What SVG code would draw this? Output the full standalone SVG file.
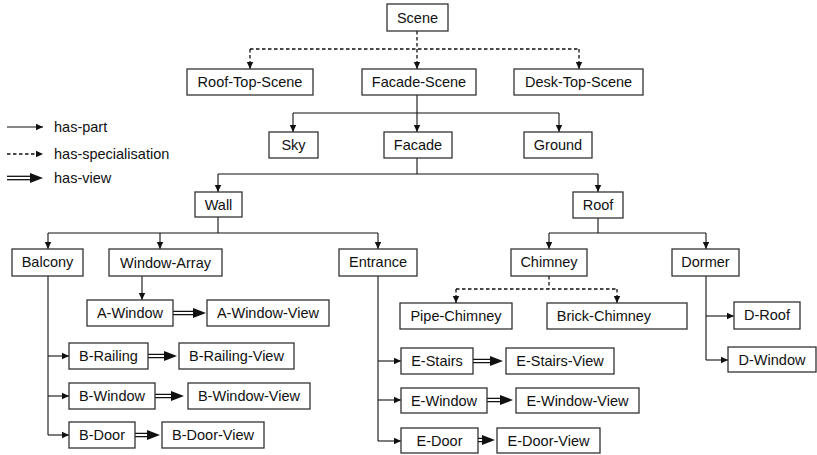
<svg xmlns="http://www.w3.org/2000/svg" width="817" height="455" viewBox="0 0 817 455">
<style>
.n rect{fill:#fff;stroke:#333;stroke-width:1.3}
text{font-family:"Liberation Sans",Arial,sans-serif;font-size:14.5px;fill:#111}
.n text{text-anchor:middle}
.c{fill:none;stroke:#111;stroke-width:1.1}
.d{stroke-dasharray:3.5 2.5;stroke-width:1.3}
.v{fill:none;stroke:#111;stroke-width:1.3}
</style>
<defs>
<marker id="a" markerWidth="8" markerHeight="8" refX="7" refY="4" orient="auto" markerUnits="userSpaceOnUse"><path d="M0,0.8 L7,4 L0,7.2 Z" fill="#111"/></marker>
</defs>
<g id="legend">
<line class="c" x1="7" y1="127" x2="43" y2="127" marker-end="url(#a)"/>
<text x="54" y="132">has-part</text>
<line class="c d" x1="7" y1="154" x2="43" y2="154" marker-end="url(#a)"/>
<text x="54" y="159">has-specialisation</text>
<line class="v" x1="7" y1="176.3" x2="32" y2="176.3"/>
<line class="v" x1="7" y1="179.7" x2="32" y2="179.7"/>
<path d="M30,173 L43,178 L30,183 Z" fill="#111"/>
<text x="54" y="183">has-view</text>
</g>
<g id="connectors">
<path class="c d" d="M417,31 V49 M250,49 H579"/>
<line class="c d" x1="250" y1="49" x2="250" y2="69" marker-end="url(#a)"/>
<line class="c d" x1="417" y1="49" x2="417" y2="69" marker-end="url(#a)"/>
<line class="c d" x1="579" y1="49" x2="579" y2="69" marker-end="url(#a)"/>
<path class="c" d="M417,95 V113 M293,113 H559"/>
<line class="c" x1="293" y1="113" x2="293" y2="132" marker-end="url(#a)"/>
<line class="c" x1="417" y1="113" x2="417" y2="132" marker-end="url(#a)"/>
<line class="c" x1="559" y1="113" x2="559" y2="132" marker-end="url(#a)"/>
<path class="c" d="M417,158 V174 M218,174 H598"/>
<line class="c" x1="218" y1="174" x2="218" y2="192" marker-end="url(#a)"/>
<line class="c" x1="598" y1="174" x2="598" y2="192" marker-end="url(#a)"/>
<path class="c" d="M218,217 V233 M48,233 H378"/>
<line class="c" x1="48" y1="233" x2="48" y2="249" marker-end="url(#a)"/>
<line class="c" x1="160" y1="233" x2="160" y2="249" marker-end="url(#a)"/>
<line class="c" x1="378" y1="233" x2="378" y2="249" marker-end="url(#a)"/>
<path class="c" d="M598,218 V233 M549,233 H706"/>
<line class="c" x1="549" y1="233" x2="549" y2="249" marker-end="url(#a)"/>
<line class="c" x1="706" y1="233" x2="706" y2="249" marker-end="url(#a)"/>
<line class="c" x1="142" y1="276" x2="142" y2="300" marker-end="url(#a)"/>
<path class="c d" d="M549,276 V289 M456,289 H617"/>
<line class="c d" x1="456" y1="289" x2="456" y2="303" marker-end="url(#a)"/>
<line class="c d" x1="617" y1="289" x2="617" y2="303" marker-end="url(#a)"/>
<path class="c" d="M48,276 V435"/>
<line class="c" x1="48" y1="356" x2="69" y2="356" marker-end="url(#a)"/>
<line class="c" x1="48" y1="396" x2="69" y2="396" marker-end="url(#a)"/>
<line class="c" x1="48" y1="435" x2="69" y2="435" marker-end="url(#a)"/>
<path class="c" d="M378,276 V441"/>
<line class="c" x1="378" y1="361" x2="401" y2="361" marker-end="url(#a)"/>
<line class="c" x1="378" y1="400" x2="401" y2="400" marker-end="url(#a)"/>
<line class="c" x1="378" y1="441" x2="401" y2="441" marker-end="url(#a)"/>
<path class="c" d="M706,276 V360"/>
<line class="c" x1="706" y1="316" x2="734" y2="316" marker-end="url(#a)"/>
<line class="c" x1="706" y1="360" x2="728" y2="360" marker-end="url(#a)"/>
<g id="views">
<path class="v" d="M173,311.3 H195 M173,314.7 H195"/><path d="M193,308 L206,313 L193,318 Z" fill="#111"/>
<path class="v" d="M148,354.3 H166 M148,357.7 H166"/><path d="M164,351 L177,356 L164,361 Z" fill="#111"/>
<path class="v" d="M155,394.3 H173 M155,397.7 H173"/><path d="M171,391 L184,396 L171,401 Z" fill="#111"/>
<path class="v" d="M134,433.3 H149 M134,436.7 H149"/><path d="M147,430 L160,435 L147,440 Z" fill="#111"/>
<path class="v" d="M473,359.3 H492 M473,362.7 H492"/><path d="M490,356 L503,361 L490,366 Z" fill="#111"/>
<path class="v" d="M487,398.3 H502 M487,401.7 H502"/><path d="M500,395 L513,400 L500,405 Z" fill="#111"/>
<path class="v" d="M478,438.3 H484 M478,441.7 H484"/><path d="M482,435 L495,440 L482,445 Z" fill="#111"/>
</g>
</g>
<g id="scene" class="n"><rect x="387" y="4" width="61" height="27"/><text x="417.5" y="22.5">Scene</text></g>
<g id="roof-top-scene" class="n"><rect x="187" y="69" width="126" height="26"/><text x="250" y="87">Roof-Top-Scene</text></g>
<g id="facade-scene" class="n"><rect x="362" y="69" width="114" height="26"/><text x="419" y="87">Facade-Scene</text></g>
<g id="desk-top-scene" class="n"><rect x="514" y="69" width="129" height="26"/><text x="578.5" y="87">Desk-Top-Scene</text></g>
<g id="sky" class="n"><rect x="269" y="132" width="49" height="26"/><text x="293.5" y="150">Sky</text></g>
<g id="facade" class="n"><rect x="384" y="132" width="68" height="26"/><text x="418" y="150">Facade</text></g>
<g id="ground" class="n"><rect x="524" y="132" width="68" height="26"/><text x="558" y="150">Ground</text></g>
<g id="wall" class="n"><rect x="195" y="192" width="47" height="25"/><text x="218.5" y="209.5">Wall</text></g>
<g id="roof" class="n"><rect x="573" y="192" width="50" height="26"/><text x="598" y="210">Roof</text></g>
<g id="balcony" class="n"><rect x="12" y="249" width="71" height="27"/><text x="47.5" y="267">Balcony</text></g>
<g id="window-array" class="n"><rect x="109" y="249" width="113" height="27"/><text x="165.5" y="267.5">Window-Array</text></g>
<g id="entrance" class="n"><rect x="339" y="249" width="78" height="27"/><text x="378" y="267">Entrance</text></g>
<g id="chimney" class="n"><rect x="511" y="249" width="76" height="27"/><text x="549" y="267">Chimney</text></g>
<g id="dormer" class="n"><rect x="672" y="249" width="67" height="27"/><text x="705.5" y="267">Dormer</text></g>
<g id="a-window" class="n"><rect x="87" y="300" width="86" height="26"/><text x="130" y="318">A-Window</text></g>
<g id="a-window-view" class="n"><rect x="207" y="300" width="122" height="26"/><text x="268" y="318">A-Window-View</text></g>
<g id="pipe-chimney" class="n"><rect x="400" y="303" width="112" height="26"/><text x="456" y="321">Pipe-Chimney</text></g>
<g id="brick-chimney" class="n"><rect x="547" y="303" width="140" height="26"/><text x="604" y="321">Brick-Chimney</text></g>
<g id="d-roof" class="n"><rect x="734" y="302" width="66" height="27"/><text x="767" y="320">D-Roof</text></g>
<g id="b-railing" class="n"><rect x="69" y="343" width="79" height="26"/><text x="108.5" y="361">B-Railing</text></g>
<g id="b-railing-view" class="n"><rect x="179" y="343" width="115" height="26"/><text x="236.5" y="361">B-Railing-View</text></g>
<g id="e-stairs" class="n"><rect x="401" y="348" width="72" height="26"/><text x="437" y="366">E-Stairs</text></g>
<g id="e-stairs-view" class="n"><rect x="506" y="348" width="108" height="26"/><text x="560" y="366">E-Stairs-View</text></g>
<g id="d-window" class="n"><rect x="728" y="347" width="88" height="25"/><text x="772" y="365">D-Window</text></g>
<g id="b-window" class="n"><rect x="69" y="383" width="86" height="26"/><text x="112" y="401">B-Window</text></g>
<g id="b-window-view" class="n"><rect x="188" y="383" width="122" height="26"/><text x="249" y="401">B-Window-View</text></g>
<g id="e-window" class="n"><rect x="401" y="388" width="86" height="25"/><text x="444" y="405.5">E-Window</text></g>
<g id="e-window-view" class="n"><rect x="516" y="388" width="123" height="25"/><text x="577.5" y="405.5">E-Window-View</text></g>
<g id="b-door" class="n"><rect x="69" y="422" width="66" height="26"/><text x="102" y="440">B-Door</text></g>
<g id="b-door-view" class="n"><rect x="162" y="422" width="102" height="26"/><text x="213" y="440">B-Door-View</text></g>
<g id="e-door" class="n"><rect x="401" y="428" width="77" height="25"/><text x="439.5" y="445.5">E-Door</text></g>
<g id="e-door-view" class="n"><rect x="497" y="428" width="103" height="25"/><text x="548.5" y="445.5">E-Door-View</text></g>
</svg>
